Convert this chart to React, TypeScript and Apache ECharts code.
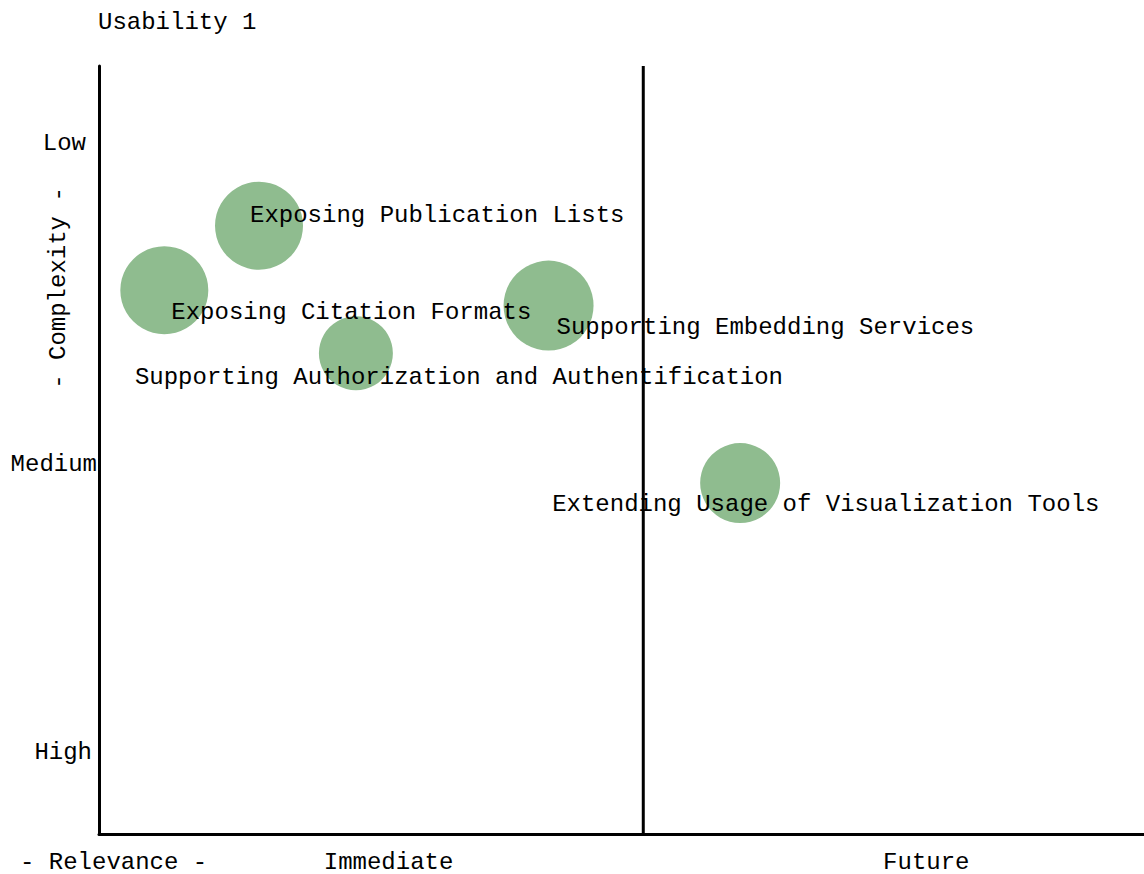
import React, { useEffect, useRef } from "react";
import * as echarts from "echarts";

// ---- data ----
const topics = [
  "Exposing Publication Lists",
  "Exposing Citation Formats",
  "Supporting Authorization and Authentification",
  "Supporting Embedding Services",
  "Extending Usage of Visualization Tools",
];
const relevance = [14.7, 6.0, 23.6, 41.3, 58.9];
const complexity = [79.2, 70.8, 62.6, 68.8, 45.7];
const weight = [88, 88, 74, 90, 80];

const yTickLabels = ["Low", "Medium", "High"];
const yTickValues = [90, 48.3, 10.8];
const xTickLabels = ["Immediate", "Future"];
const xTickValues = [26.6, 76.0];
const dividerValue = 50;
const xMax = 96;
const yMax = 100;

// ---- styles (label placement) ----
const bubbleLabelOffsets = [
  [-9, -10],
  [7, 22],
  [-221, 24],
  [8, 22],
  [-188, 21],
];
const yTickOffsets = [-13, -2, -7];

const FONT = "'Liberation Mono', 'DejaVu Sans Mono', monospace";

export default function App() {
  const ref = useRef<HTMLDivElement>(null);

  useEffect(() => {
    if (!ref.current) return;
    const chart = echarts.init(ref.current, null, { renderer: "svg" });
    const textStyle = {
      fontFamily: FONT,
      fontSize: 24,
      lineHeight: 20,
      color: "#000",
      opacity: 1,
      fontWeight: "normal" as const,
    };

    chart.setOption({
      animation: false,
      backgroundColor: "#fff",
      title: {
        text: "Usability 1",
        left: 98,
        top: 12,
        padding: 0,
        textStyle: { ...textStyle },
      },
      grid: { left: 99, top: 66, right: 0, height: 768, containLabel: false },
      xAxis: {
        type: "value",
        min: 0,
        max: xMax,
        axisLine: { show: true, onZero: false, lineStyle: { color: "#000", width: 3 } },
        axisTick: { show: false },
        axisLabel: { show: false },
        splitLine: { show: false },
      },
      yAxis: {
        type: "value",
        min: 0,
        max: yMax,
        axisLine: { show: true, onZero: false, lineStyle: { color: "#000", width: 3 } },
        axisTick: { show: false },
        axisLabel: { show: false },
        splitLine: { show: false },
      },
      graphic: [
        {
          type: "text",
          x: 20,
          y: 862,
          style: {
            text: "- Relevance -",
            font: `24px ${FONT}`,
            fill: "#000",
            verticalAlign: "middle",
            lineHeight: 20,
          },
        },
        {
          type: "text",
          x: 58,
          y: 288,
          rotation: Math.PI / 2,
          style: {
            text: "- Complexity -",
            font: `24px ${FONT}`,
            fill: "#000",
            align: "center",
            verticalAlign: "middle",
            lineHeight: 20,
          },
        },
      ],
      series: [
        {
          type: "scatter",
          z: 2,
          clip: false,
          silent: true,
          data: topics.map((t, i) => ({
            value: [relevance[i], complexity[i], weight[i]],
            name: t,
            label: {
              show: true,
              position: "inside",
              align: "left",
              verticalAlign: "middle",
              offset: bubbleLabelOffsets[i],
              formatter: t,
              ...textStyle,
            },
          })),
          symbolSize: (v: number[]) => v[2],
          itemStyle: { color: "#8fbc8f", opacity: 1 },
        },
        {
          type: "line",
          z: 5,
          silent: true,
          symbol: "none",
          data: [
            [dividerValue, 0],
            [dividerValue, yMax],
          ],
          lineStyle: { color: "#000", width: 3 },
        },
        {
          type: "scatter",
          z: 3,
          clip: false,
          silent: true,
          symbolSize: 0,
          itemStyle: { opacity: 1 },
          data: yTickLabels.map((t, i) => ({
            value: [0, yTickValues[i]],
            label: {
              show: true,
              position: "inside",
              align: "right",
              verticalAlign: "middle",
              offset: [yTickOffsets[i], 1],
              formatter: t,
              ...textStyle,
            },
          })),
        },
        {
          type: "scatter",
          z: 3,
          clip: false,
          silent: true,
          symbolSize: 0,
          itemStyle: { opacity: 1 },
          data: xTickLabels.map((t, i) => ({
            value: [xTickValues[i], 0],
            label: {
              show: true,
              position: "inside",
              align: "center",
              verticalAlign: "middle",
              offset: [0, 28],
              formatter: t,
              ...textStyle,
            },
          })),
        },
      ],
    });

    return () => chart.dispose();
  }, []);

  return (
    <div
      ref={ref}
      style={{ position: "absolute", left: 0, top: 0, width: 1144, height: 874 }}
    />
  );
}
